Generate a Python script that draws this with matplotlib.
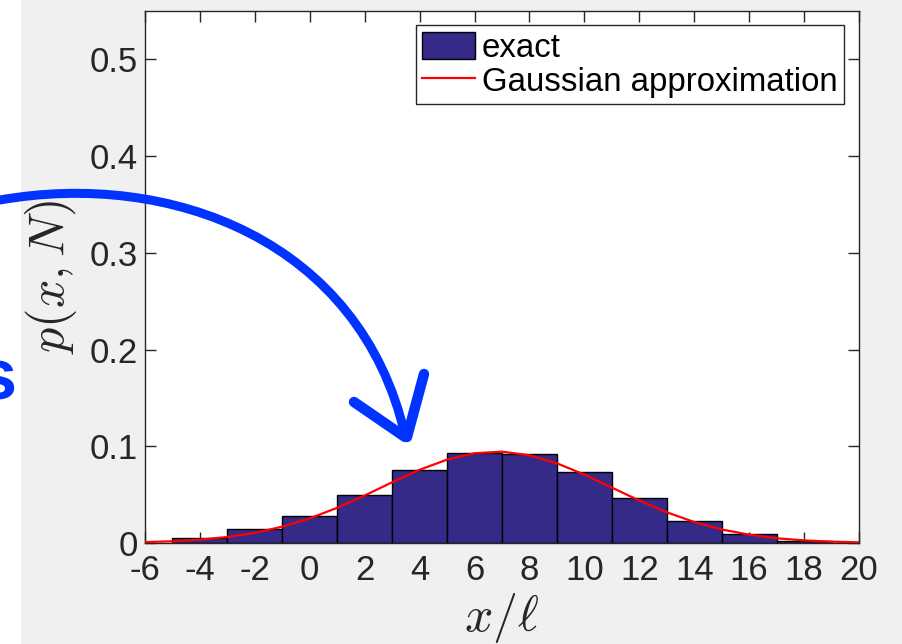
import matplotlib
matplotlib.use("Agg")
import matplotlib.pyplot as plt
from matplotlib.patches import Rectangle, PathPatch
from matplotlib.path import Path
from matplotlib.lines import Line2D

plt.rcParams["mathtext.fontset"] = "cm"

# exact distribution: bin centres and heights (bins are 2 wide)
bin_centers = [-4, -2, 0, 2, 4, 6, 8, 10, 12, 14, 16, 18]
exact_p = [0.0055, 0.0141, 0.0276, 0.0497, 0.0756, 0.0928,
           0.0925, 0.0738, 0.0466, 0.0228, 0.0090, 0.0024]

# gaussian approximation
gauss_x = list(range(-6, 21))
gauss_p = [0.0009, 0.0018, 0.0035, 0.0062, 0.0105, 0.0169, 0.0255, 0.0364,
           0.0491, 0.0628, 0.0757, 0.0862, 0.0928, 0.0944, 0.0907, 0.0824,
           0.0707, 0.0573, 0.0439, 0.0318, 0.0217, 0.0140, 0.0086, 0.0049,
           0.0027, 0.0014, 0.0007]

xticks = list(range(-6, 21, 2))
yticks = [0, 0.1, 0.2, 0.3, 0.4, 0.5]
ytick_labels = ["0", "0.1", "0.2", "0.3", "0.4", "0.5"]

W, H = 903, 644
fig = plt.figure(figsize=(W / 100, H / 100), dpi=100)
fig.patch.set_facecolor("white")
# grey matlab figure background, slide is white on the far left
fig.patches.append(Rectangle((21 / W, 0), 1 - 21 / W, 1, transform=fig.transFigure,
                             facecolor="#f0f0f0", edgecolor="none", zorder=-10))

ax = fig.add_axes([145 / W, 1 - 543 / H, (859 - 145) / W, (543 - 11) / H])
ax.set_facecolor("white")

font = "Liberation Sans"
fs = 25

bars = ax.bar(bin_centers, exact_p, width=2, color="#352a87", edgecolor="black",
              linewidth=1.0, label="exact", zorder=2)
line, = ax.plot(gauss_x, gauss_p, color="red", linewidth=1.6,
                label="Gaussian approximation", zorder=3)

ax.set_xlim(-6, 20)
ax.set_ylim(0, 0.55)
ax.set_xticks(xticks)
ax.set_xticklabels([str(t) for t in xticks], fontname=font, fontsize=fs, color="#262626")
ax.set_yticks(yticks)
ax.set_yticklabels(ytick_labels, fontname=font, fontsize=fs, color="#262626")
ax.tick_params(direction="in", length=8, width=1, top=True, right=True,
               colors="#262626", pad=5)
ax.tick_params(axis="x", pad=8)
for s in ax.spines.values():
    s.set_color("#262626")
    s.set_linewidth(1)

ax.set_xlabel(r"$x/\ell$", fontsize=36, color="#262626", labelpad=3,
              math_fontfamily="cm")
ax.set_ylabel(r"$p(x,N)$", fontsize=36, color="#262626", labelpad=8,
              math_fontfamily="cm")

leg = ax.legend([bars, line], ["exact", "Gaussian approximation"],
                loc="upper right", bbox_to_anchor=(844 / W, 1 - 25 / H),
                bbox_transform=fig.transFigure, prop={"family": font, "size": 23.8},
                fancybox=False, framealpha=1, edgecolor="#262626",
                handlelength=1.6, handleheight=0.9, handletextpad=0.2,
                borderpad=0.2, labelspacing=0.05, borderaxespad=0)
leg.get_frame().set_linewidth(1)

# hand drawn blue arrow and cut off slide text
blue = "#0033ff"
pts = [(0, 200), (170, 170), (360, 240), (405, 435)]
verts = [(x / W, 1 - y / H) for x, y in pts]
arc = Path(verts, [Path.MOVETO, Path.CURVE4, Path.CURVE4, Path.CURVE4])
fig.patches.append(PathPatch(arc, transform=fig.transFigure, facecolor="none",
                             edgecolor=blue, linewidth=6.5, capstyle="round", zorder=20))
for (x0, y0), (x1, y1) in [((354, 402), (405, 437)), ((424, 374), (407, 437))]:
    fig.lines.append(Line2D([x0 / W, x1 / W], [1 - y0 / H, 1 - y1 / H],
                            transform=fig.transFigure, color=blue, linewidth=7.5,
                            solid_capstyle="round", zorder=20))
fig.text(17 / W, 1 - 400 / H, "s", color=blue, fontsize=52, fontweight="bold",
         fontname=font, ha="right", va="baseline")

fig.savefig("out.png", dpi=100)
